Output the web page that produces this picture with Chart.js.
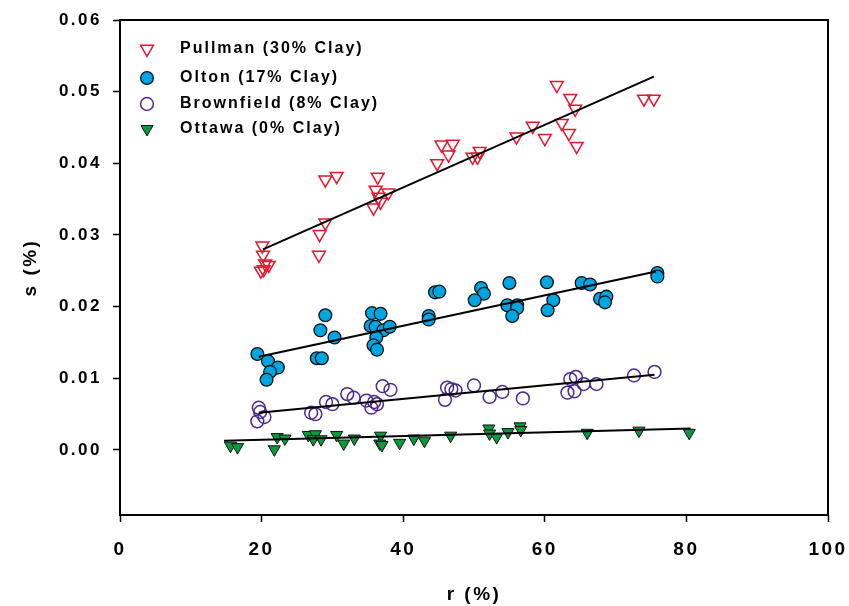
<!DOCTYPE html>
<html>
<head>
<meta charset="utf-8">
<script src="https://cdn.jsdelivr.net/npm/chart.js@4/dist/chart.umd.min.js"></script>
<style>
  body { margin: 0; background: #fff; }
  canvas { display: block; }
</style>
</head>
<body>
<canvas id="chart" width="849" height="606"></canvas>
<script>
// Soil data: r (%) vs s (%)
const pullmanR = [20.1, 20.2, 20.5, 21.0, 19.9, 20.3, 29.0, 30.6, 29.0, 28.2, 28.1, 36.4, 36.1, 37.9, 36.5, 36.8, 35.8, 44.8, 45.4, 47.0, 46.4, 49.8, 50.8, 50.5, 56.0, 58.3, 60.0, 61.7, 63.6, 64.3, 62.4, 63.4, 64.5, 74.0, 75.4];
const pullmanS = [0.0285, 0.0272, 0.0260, 0.0258, 0.0250, 0.0252, 0.0377, 0.0382, 0.0317, 0.0301, 0.0272, 0.0381, 0.0363, 0.0359, 0.0353, 0.0346, 0.0338, 0.0400, 0.0426, 0.0427, 0.0412, 0.0409, 0.0417, 0.0409, 0.0437, 0.0452, 0.0435, 0.0509, 0.0491, 0.0476, 0.0456, 0.0442, 0.0424, 0.0490, 0.0490];

const oltonR = [19.4, 20.9, 22.3, 21.2, 20.7, 29.0, 28.3, 30.3, 27.8, 28.5, 35.6, 36.8, 35.4, 36.1, 37.2, 38.1, 36.2, 35.8, 36.3, 43.6, 43.6, 44.5, 45.1, 51.0, 51.4, 50.1, 55.0, 54.7, 56.1, 56.1, 55.4, 60.3, 61.2, 60.4, 65.2, 66.4, 67.8, 68.7, 68.5, 75.9, 75.9];
const oltonS = [0.0134, 0.0124, 0.0115, 0.0109, 0.0098, 0.0188, 0.0167, 0.0157, 0.0128, 0.0128, 0.0191, 0.0190, 0.0173, 0.0172, 0.0167, 0.0172, 0.0157, 0.0146, 0.0140, 0.0187, 0.0182, 0.0220, 0.0221, 0.0226, 0.0218, 0.0209, 0.0233, 0.0202, 0.0202, 0.0198, 0.0187, 0.0234, 0.0209, 0.0195, 0.0233, 0.0231, 0.0211, 0.0214, 0.0206, 0.0247, 0.0242];

const brownR = [19.6, 19.8, 20.4, 19.4, 27.0, 27.6, 29.1, 30.0, 32.1, 33.0, 34.8, 35.9, 35.5, 36.3, 37.1, 38.2, 46.2, 46.8, 47.4, 45.9, 50.0, 52.2, 54.0, 56.9, 63.6, 64.4, 65.5, 67.3, 63.2, 64.2, 72.6, 75.5];
const brownS = [0.0059, 0.0053, 0.0046, 0.0040, 0.0052, 0.0050, 0.0067, 0.0064, 0.0078, 0.0073, 0.0069, 0.0067, 0.0059, 0.0064, 0.0089, 0.0084, 0.0087, 0.0085, 0.0083, 0.0070, 0.0090, 0.0074, 0.0081, 0.0072, 0.0099, 0.0102, 0.0092, 0.0092, 0.0080, 0.0082, 0.0104, 0.0109];

const ottawaR = [15.6, 16.6, 21.8, 22.2, 23.3, 26.6, 27.6, 27.3, 28.4, 30.6, 31.6, 33.1, 36.8, 36.7, 37.0, 39.5, 41.5, 43.0, 46.7, 52.1, 52.2, 53.2, 54.8, 56.5, 56.6, 66.0, 73.3, 80.4];
const ottawaS = [0.0006, 0.0004, 0.0001, 0.0018, 0.0016, 0.0021, 0.0022, 0.0015, 0.0015, 0.0021, 0.0009, 0.0016, 0.0020, 0.0009, 0.0007, 0.0010, 0.0016, 0.0013, 0.0020, 0.0030, 0.0023, 0.0018, 0.0025, 0.0033, 0.0028, 0.0024, 0.0027, 0.0024];

// fitted lines (end points)
const pullmanFitR = [20.2, 75.4];
const pullmanFitS = [0.0280, 0.0521];
const oltonFitR = [19.6, 75.7];
const oltonFitS = [0.0130, 0.0249];
const brownFitR = [19.6, 75.5];
const brownFitS = [0.0052, 0.0105];
const ottawaFitR = [14.7, 80.6];
const ottawaFitS = [0.0013, 0.0030];

const seriesNames = ['Pullman (30% Clay)', 'Olton (17% Clay)', 'Brownfield (8% Clay)', 'Ottawa (0% Clay)'];
const xTicks = [0, 20, 40, 60, 80, 100];
const yTicks = [0, 0.01, 0.02, 0.03, 0.04, 0.05, 0.06];

const FONT = '"Liberation Sans", Arial, sans-serif';

function toPoints(xs, ys) {
  return xs.map((x, i) => ({ x: x, y: ys[i] }));
}

function fitLine(xs, ys) {
  return {
    type: 'line',
    data: toPoints(xs, ys),
    borderColor: '#000',
    borderWidth: 2,
    pointRadius: 0,
    fill: false,
    order: 0
  };
}

const datasets = [
  {
    label: seriesNames[0],
    data: toPoints(pullmanR, pullmanS),
    pointStyle: 'triangle',
    rotation: 180,
    pointRadius: 7.4,
    backgroundColor: 'rgba(0,0,0,0)',
    borderColor: '#E5162F',
    borderWidth: 1.5,
    order: 1
  },
  {
    label: seriesNames[1],
    data: toPoints(oltonR, oltonS),
    pointStyle: 'circle',
    pointRadius: 6.4,
    backgroundColor: '#00A6E2',
    borderColor: '#111',
    borderWidth: 1.3,
    order: 1
  },
  {
    label: seriesNames[2],
    data: toPoints(brownR, brownS),
    pointStyle: 'circle',
    pointRadius: 6.4,
    backgroundColor: 'rgba(0,0,0,0)',
    borderColor: '#4A2A8C',
    borderWidth: 1.5,
    order: 1
  },
  {
    label: seriesNames[3],
    data: toPoints(ottawaR, ottawaS),
    pointStyle: 'triangle',
    rotation: 180,
    pointRadius: 7,
    backgroundColor: '#0A9A3C',
    borderColor: '#111',
    borderWidth: 1,
    order: 1
  },
  fitLine(pullmanFitR, pullmanFitS),
  fitLine(oltonFitR, oltonFitS),
  fitLine(brownFitR, brownFitS),
  fitLine(ottawaFitR, ottawaFitS)
];

// letter spacing for all canvas text
const spacing = {
  id: 'spacing',
  beforeDraw(chart) {
    chart.ctx.letterSpacing = '2.5px';
  }
};

// box around the plot area
const frame = {
  id: 'frame',
  beforeDatasetsDraw(chart) {
    const { ctx, chartArea: a } = chart;
    ctx.save();
    ctx.strokeStyle = '#000';
    ctx.lineWidth = 2;
    ctx.strokeRect(a.left, a.top, a.right - a.left, a.bottom - a.top);
    ctx.restore();
  }
};

// legend inside the plot, top left
const insideLegend = {
  id: 'insideLegend',
  afterDraw(chart) {
    const ctx = chart.ctx;
    const rows = [49, 78, 104, 129];
    ctx.save();
    ctx.font = 'bold 16px ' + FONT;
    ctx.textBaseline = 'middle';
    ctx.textAlign = 'left';
    ctx.letterSpacing = '2px';
    chart.data.datasets.slice(0, 4).forEach((ds, i) => {
      ctx.fillStyle = ds.backgroundColor;
      ctx.strokeStyle = ds.borderColor;
      ctx.lineWidth = ds.borderWidth;
      Chart.helpers.drawPoint(ctx, {
        pointStyle: ds.pointStyle,
        rotation: ds.rotation || 0,
        radius: ds.pointRadius,
        borderWidth: ds.borderWidth
      }, 147, rows[i]);
      ctx.fillStyle = '#000';
      ctx.fillText(ds.label, 180, rows[i]);
    });
    ctx.restore();
  }
};

new Chart(document.getElementById('chart'), {
  type: 'scatter',
  data: { datasets: datasets },
  plugins: [spacing, frame, insideLegend],
  options: {
    responsive: false,
    animation: false,
    devicePixelRatio: 1,
    layout: {
      padding: { top: 20, right: 21, left: 0, bottom: 0 }
    },
    plugins: {
      legend: { display: false },
      tooltip: { enabled: false }
    },
    scales: {
      x: {
        type: 'linear',
        min: 0,
        max: 100,
        afterBuildTicks: scale => {
          scale.ticks = xTicks.map(v => ({ value: v }));
        },
        afterFit: scale => {
          scale.height = 91;
          scale.paddingLeft = 0;
          scale.paddingRight = 0;
        },
        border: { display: false },
        grid: {
          drawOnChartArea: false,
          color: '#000',
          tickLength: 7,
          tickWidth: 1.5
        },
        ticks: {
          color: '#000',
          padding: 16,
          font: { family: FONT, size: 19, weight: 'bold' }
        },
        title: {
          display: true,
          text: 'r (%)',
          color: '#000',
          padding: { top: 0, bottom: 0 },
          font: { family: FONT, size: 19, weight: 'bold' }
        }
      },
      y: {
        type: 'linear',
        min: -0.00907,
        max: 0.06,
        afterBuildTicks: scale => {
          scale.ticks = yTicks.map(v => ({ value: v }));
        },
        afterFit: scale => {
          scale.width = 120;
          scale.paddingTop = 0;
          scale.paddingBottom = 0;
        },
        border: { display: false },
        grid: {
          drawOnChartArea: false,
          color: '#000',
          tickLength: 7,
          tickWidth: 1.5
        },
        ticks: {
          color: '#000',
          padding: 11,
          font: { family: FONT, size: 17, weight: 'bold' },
          callback: v => v.toFixed(2)
        },
        title: {
          display: true,
          text: 's (%)',
          color: '#000',
          padding: { top: 19, bottom: 0 },
          font: { family: FONT, size: 19, weight: 'bold' }
        }
      }
    }
  }
});
</script>
</body>
</html>
